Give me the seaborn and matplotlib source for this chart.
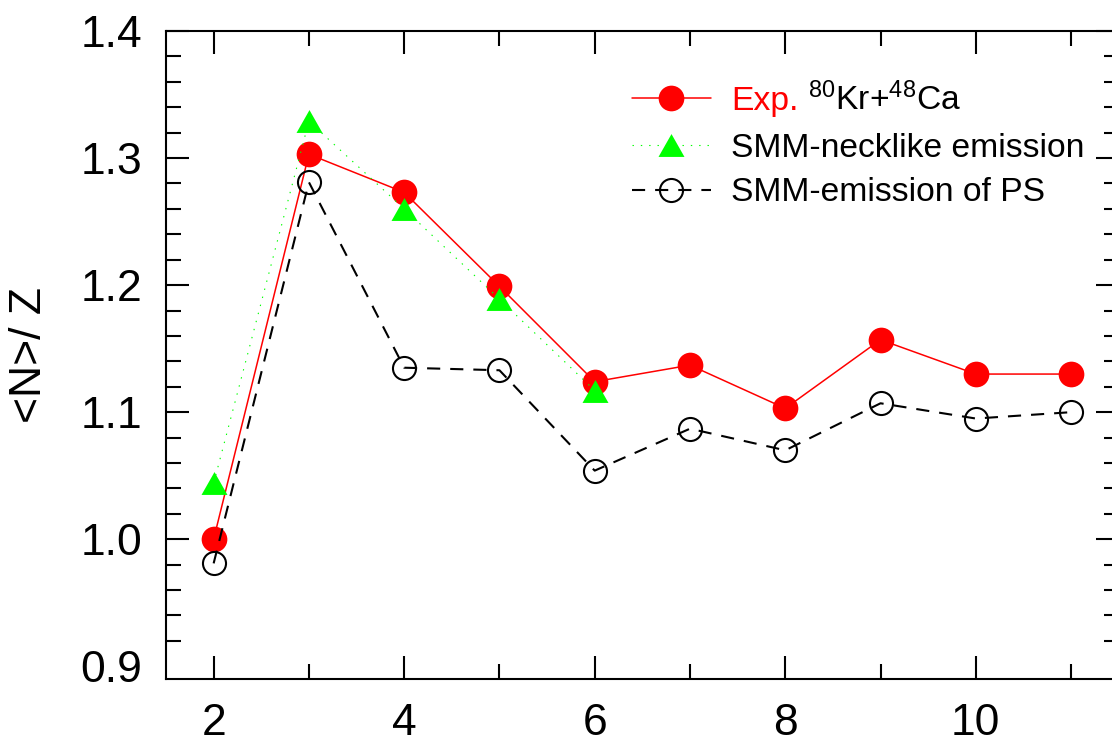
import matplotlib
matplotlib.use("Agg")
import matplotlib.pyplot as plt
from matplotlib.ticker import MultipleLocator, FormatStrFormatter
import seaborn as sns

# Fragment charge Z and mean neutron-to-proton ratio <N>/Z
z_exp = [2, 3, 4, 5, 6, 7, 8, 9, 10, 11]
n_over_z_exp = [1.000, 1.303, 1.273, 1.199, 1.124, 1.137, 1.103, 1.157, 1.130, 1.130]

z_neck = [2, 3, 4, 5, 6]
n_over_z_neck = [1.044, 1.329, 1.260, 1.189, 1.117]

z_ps = [2, 3, 4, 5, 6, 7, 8, 9, 10, 11]
n_over_z_ps = [0.981, 1.281, 1.135, 1.133, 1.054, 1.087, 1.070, 1.107, 1.095, 1.100]

label_exp = "Exp. $^{80}$Kr+$^{48}$Ca"
label_neck = "SMM-necklike emission"
label_ps = "SMM-emission of PS"

x_ticks = [2, 4, 6, 8, 10]
y_ticks = [0.9, 1.0, 1.1, 1.2, 1.3, 1.4]

sns.set_style("ticks")
plt.rcParams["font.family"] = ["Liberation Sans", "DejaVu Sans"]
plt.rcParams["mathtext.fontset"] = "custom"
plt.rcParams["mathtext.rm"] = "Liberation Sans"
plt.rcParams["mathtext.it"] = "Liberation Sans"
plt.rcParams["mathtext.default"] = "regular"
for key in ("text.color", "axes.labelcolor", "xtick.color", "ytick.color",
            "axes.edgecolor"):
    plt.rcParams[key] = "black"

W, H = 1112, 747
LEG_FS = 24.2
fig = plt.figure(figsize=(W / 100, H / 100), dpi=100)
ax = fig.add_axes([166 / W, 1 - 679 / H, (1118.7 - 166) / W, (679 - 31) / H])

line_exp = sns.lineplot(x=z_exp, y=n_over_z_exp, ax=ax, color="#ff0000", lw=1.1,
                        marker="o", markersize=18.5, markerfacecolor="#ff0000",
                        markeredgecolor="#ff0000", markeredgewidth=0, zorder=3).lines[-1]
tri = [(0, 0.88), (-1, -0.88), (1, -0.88)]
line_neck = sns.lineplot(x=z_neck, y=n_over_z_neck, ax=ax, color="#00ff00", lw=0.8,
                         marker=tri, markersize=18.7,
                         markerfacecolor="#00ff00", markeredgecolor="#00ff00",
                         markeredgewidth=0, zorder=4).lines[-1]
line_neck.set_dashes((1.25, 6.25))
line_ps = sns.lineplot(x=z_ps, y=n_over_z_ps, ax=ax, color="black", lw=1.5,
                       marker="o", markersize=16.6, markerfacecolor="none",
                       markeredgecolor="black", markeredgewidth=1.5, zorder=5).lines[-1]
line_ps.set_dashes((6.3, 4.8))

ax.set_xlim(1.5, 11.5)
ax.set_ylim(0.89, 1.4)
ax.set_xticks(x_ticks)
ax.xaxis.set_minor_locator(MultipleLocator(1))
ax.set_yticks(y_ticks)
ax.yaxis.set_major_formatter(FormatStrFormatter("%.1f"))
ax.yaxis.set_minor_locator(MultipleLocator(0.02))

for s in ax.spines.values():
    s.set_linewidth(1.5)
    s.set_color("black")
ax.tick_params(which="both", direction="in", top=True, right=True, width=1.5,
               color="black", labelcolor="black", labelsize=32, pad=17)
ax.tick_params(which="major", length=16.6)
ax.tick_params(which="minor", length=10.8)

ax.set_xlabel("")
ax.set_ylabel("<N>/ Z", fontsize=32)
ax.yaxis.set_label_coords((50 - 166) / (1118.7 - 166), 0.5)

leg = ax.legend([line_exp, line_neck, line_ps], [label_exp, label_neck, label_ps],
                loc="upper left", bbox_to_anchor=(632 / W, 1 - 78 / H),
                bbox_transform=fig.transFigure, frameon=False, borderpad=0,
                borderaxespad=0, handlelength=2.35, handletextpad=0.6,
                labelspacing=0.4, fontsize=LEG_FS, numpoints=1)

fig.canvas.draw()

# The 0.9 level carries a label but no tick mark
for tk in ax.yaxis.get_major_ticks():
    if abs(tk.get_loc() - 0.9) < 1e-9:
        tk.tick1line.set_visible(False)
        tk.tick2line.set_visible(False)

# First legend entry: "Exp." in red, isotopes in black
renderer = fig.canvas.get_renderer()
t0 = leg.get_texts()[0]
bx, by = t0.get_transform().transform(t0.get_position())
ext = t0.get_window_extent(renderer)
t0.set_alpha(0)
fig.text(bx / W, by / H, "Exp.", color="#ff0000", fontsize=LEG_FS, ha="left", va="baseline")
fig.text(ext.x1 / W, by / H, "$^{80}$Kr+$^{48}$Ca", color="black", fontsize=LEG_FS,
         ha="right", va="baseline")

fig.savefig("out.png", dpi=100)
